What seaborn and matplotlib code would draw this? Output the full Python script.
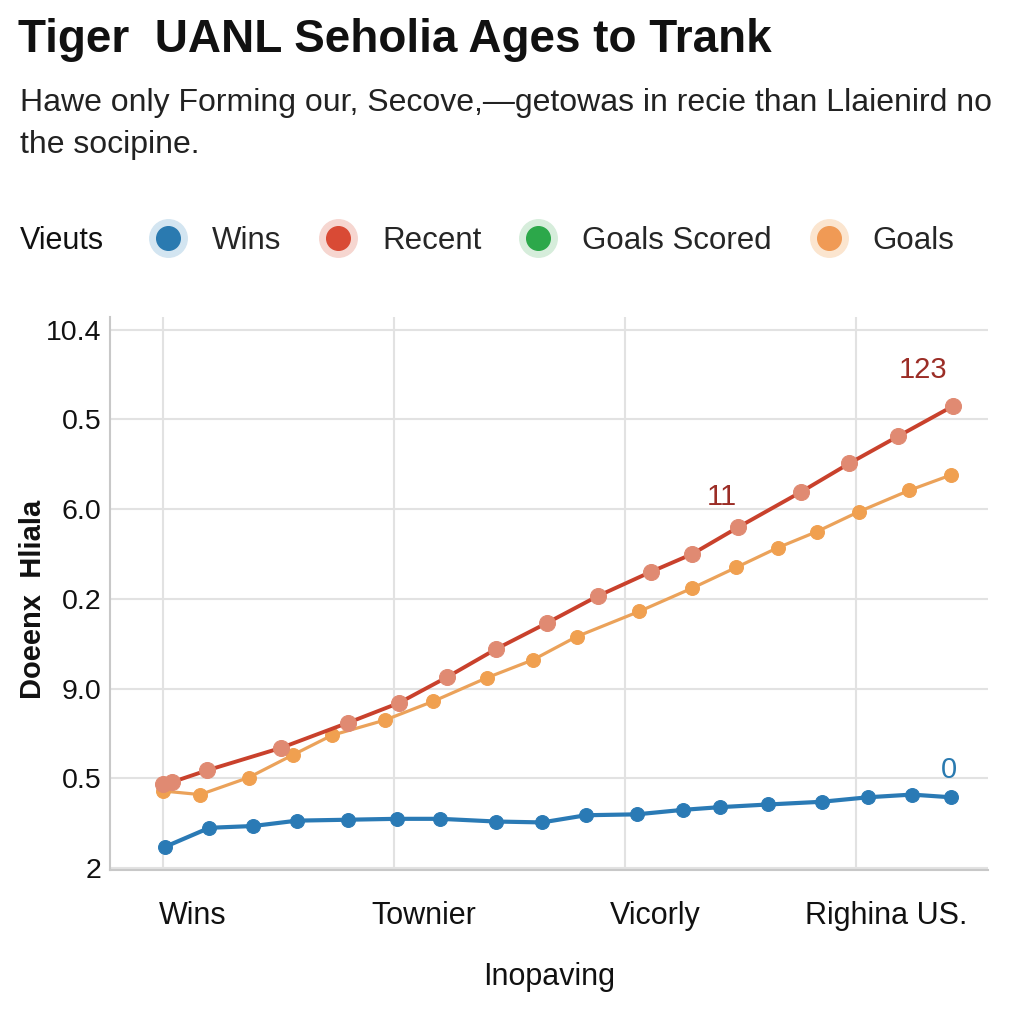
import seaborn as sns
import matplotlib.pyplot as plt
from matplotlib.lines import Line2D
from matplotlib.legend_handler import HandlerTuple
from matplotlib.transforms import ScaledTranslation

# Set the style for seaborn plots
sns.set_theme(style="whitegrid")
plt.rcParams['font.family'] = ['Liberation Sans', 'DejaVu Sans']

# Values (x in category steps, y in gridline steps)
wins_x = [0.01, 0.20, 0.39, 0.58, 0.80, 1.01, 1.20, 1.44, 1.64, 1.83, 2.05, 2.25, 2.41, 2.62, 2.85, 3.05, 3.24, 3.41]
wins_y = [0.24, 0.45, 0.47, 0.53, 0.54, 0.55, 0.55, 0.52, 0.51, 0.59, 0.60, 0.65, 0.68, 0.71, 0.74, 0.79, 0.82, 0.79]

recent_x = [0.00, 0.04, 0.19, 0.51, 0.80, 1.02, 1.23, 1.44, 1.66, 1.88, 2.11, 2.29, 2.49, 2.76, 2.97, 3.18, 3.42]
recent_y = [0.94, 0.96, 1.09, 1.34, 1.62, 1.84, 2.13, 2.44, 2.73, 3.03, 3.30, 3.50, 3.80, 4.19, 4.51, 4.81, 5.15]

goals_x = [0.00, 0.16, 0.37, 0.56, 0.73, 0.96, 1.17, 1.40, 1.60, 1.79, 2.06, 2.29, 2.48, 2.66, 2.83, 3.01, 3.23, 3.41]
goals_y = [0.86, 0.82, 1.01, 1.26, 1.48, 1.65, 1.86, 2.12, 2.32, 2.58, 2.86, 3.12, 3.35, 3.57, 3.75, 3.97, 4.21, 4.38]

x_labels = ['Wins', 'Townier', 'Vicorly', 'Righina US.']
y_labels = ['2', '0.5', '9.0', '0.2', '6.0', '0.5', '10.4']

legend_labels = ['Wins', 'Recent', 'Goals Scored', 'Goals']
legend_dots = ['#2a7ab0', '#d94a35', '#2ca84a', '#f09a55']
legend_halos = ['#d3e5f1', '#f6d6d0', '#d6eddb', '#fbe5cf']

# callouts: (text, x, y, colour)
callouts = [('123', 3.29, 5.55, '#9b2d26'), ('11', 2.42, 4.13, '#9b2d26'), ('0', 3.40, 1.09, '#2a7ab0')]

fig = plt.figure(figsize=(10.24, 10.24), dpi=100)
ax = fig.add_axes([110 / 1024, 1 - 870 / 1024, 878 / 1024, 553 / 1024])

sns.lineplot(x=wins_x, y=wins_y, ax=ax, color='#2a7ab5', linewidth=3, marker='o',
             markersize=10, markeredgecolor='#2a7ab5', estimator=None, sort=False)
sns.lineplot(x=goals_x, y=goals_y, ax=ax, color='#eba25a', linewidth=2.3, marker='o',
             markersize=10, markerfacecolor='#f0a050', markeredgecolor='#f0a050',
             estimator=None, sort=False)
sns.lineplot(x=recent_x, y=recent_y, ax=ax, color='#c9412c', linewidth=2.8, marker='o',
             markersize=11.5, markerfacecolor='#e08a72', markeredgecolor='#e08a72',
             estimator=None, sort=False)

for txt, tx, ty, col in callouts:
    ax.text(tx, ty, txt, color=col, fontsize=21, ha='center', va='center')

ax.set_xlim(-0.23, 3.57)
ax.set_ylim(-0.02, 6.14)
ax.set_xticks(range(len(x_labels)))
ax.set_xticklabels(x_labels, fontsize=22, color='#111111')
ax.set_yticks(range(len(y_labels)))
ax.set_yticklabels(y_labels, fontsize=20.5, color='#111111')
ax.tick_params(axis='x', length=0, pad=22)
ax.tick_params(axis='y', length=0, pad=6)

# x labels sit a bit right of their gridlines
for lab in ax.get_xticklabels():
    lab.set_transform(lab.get_transform() + ScaledTranslation(0.3, 0, fig.dpi_scale_trans))

ax.set_xlabel('Inopaving', fontsize=22, labelpad=23, color='#111111')
ax.set_ylabel('Doeenx  Hliala', fontsize=21, fontweight='bold', color='#111111')
ax.yaxis.set_label_coords(-0.072, 0.49)

ax.grid(True, color='#e2e2e2', linewidth=1.5)
for side in ['top', 'right']:
    ax.spines[side].set_visible(False)
for side in ['left', 'bottom']:
    ax.spines[side].set_color('#c8c8c8')
    ax.spines[side].set_linewidth(1.5)

# Title and subtitle
fig.text(18 / 1024, 1 - 40 / 1024, 'Tiger  UANL Seholia Ages to Trank',
         fontsize=33, fontweight='bold', va='center', color='#111111')
fig.text(20 / 1024, 1 - 103 / 1024, 'Hawe only Forming our, Secove,\u2014getowas in recie than Llaienird no',
         fontsize=23, va='center', color='#222222')
fig.text(20 / 1024, 1 - 145 / 1024, 'the socipine.', fontsize=23, va='center', color='#222222')

# Legend row
fig.text(20 / 1024, 1 - 241 / 1024, 'Vieuts', fontsize=22, va='center', color='#111111')
handles = []
for dot, halo in zip(legend_dots, legend_halos):
    handles.append((Line2D([], [], marker='o', ls='', markersize=27, color=halo),
                    Line2D([], [], marker='o', ls='', markersize=17, color=dot)))
fig.legend(handles, legend_labels, handler_map={tuple: HandlerTuple(ndivide=1, pad=0)},
           ncol=4, loc='center left', bbox_to_anchor=(148 / 1024, 1 - 241 / 1024),
           frameon=False, fontsize=22.5, handlelength=1.3, handletextpad=0.75,
           columnspacing=1.17, borderpad=0, borderaxespad=0)

plt.savefig('out.png', dpi=100)
plt.close()
